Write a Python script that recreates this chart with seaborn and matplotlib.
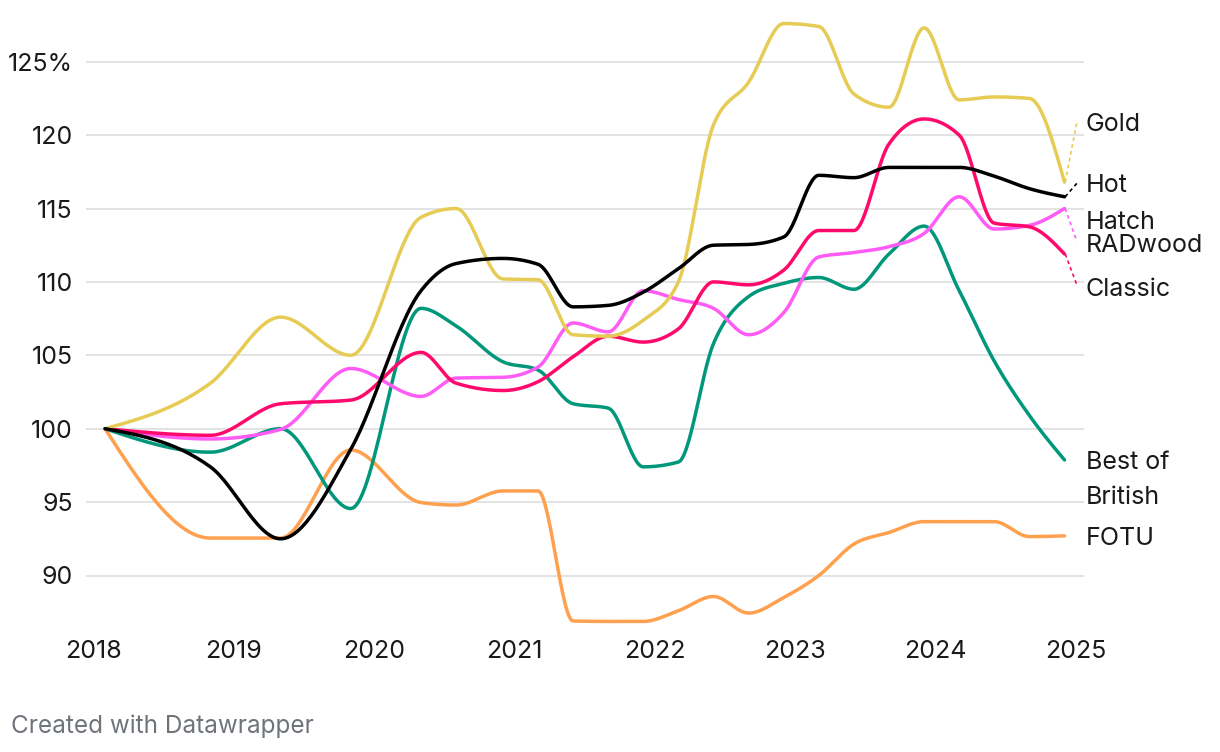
import numpy as np
import pandas as pd
import matplotlib
matplotlib.use("Agg")
import matplotlib.pyplot as plt
import seaborn as sns

# ---------------- data ----------------
dates = ["2018-02", "2018-11", "2019-05", "2019-11", "2020-05", "2020-08", "2020-12",
         "2021-03", "2021-06", "2021-09", "2021-12", "2022-03", "2022-06", "2022-09",
         "2022-12", "2023-03", "2023-06", "2023-09", "2023-12", "2024-03", "2024-06",
         "2024-09", "2024-12"]

gold = [100, 103.1, 107.6, 105.0, 114.4, 115.0, 110.2, 110.15, 106.4, 106.3, 107.4,
        110.0, 120.7, 123.6, 127.6, 127.4, 122.8, 121.9, 127.3, 122.4, 122.6, 122.5, 116.8]
hot = [100, 97.4, 92.5, 98.6, 109.4, 111.25, 111.6, 111.2, 108.3, 108.4, 109.3,
       110.9, 112.5, 112.55, 113.06, 117.26, 117.1, 117.8, 117.8, 117.8, 117.2, 116.35, 115.8]
classic = [100, 99.55, 101.7, 101.95, 105.2, 103.1, 102.6, 103.2, 104.9, 106.3, 105.9,
           106.8, 110.0, 109.8, 110.8, 113.5, 113.5, 119.4, 121.1, 120.0, 114.0, 113.75, 111.9]
radwood = [100, 99.3, 99.95, 104.1, 102.2, 103.45, 103.5, 104.2, 107.2, 106.6, 109.4,
           108.8, 108.2, 106.4, 107.9, 111.7, 112.0, 112.4, 113.3, 115.8, 113.6, 113.85, 115.0]
best_of_british = [100, 98.4, 100.0, 94.56, 108.2, 107.0, 104.56, 104.0, 101.7, 101.4, 97.4,
                   97.73, 105.8, 109.0, 109.9, 110.3, 109.5, 111.9, 113.8, 109.4, 104.6, 100.9, 97.87]
fotu = [100, 92.55, 92.55, 98.55, 94.97, 94.8, 95.76, 95.76, 86.9, 86.87, 86.87,
        87.6, 88.57, 87.44, 88.5, 90.0, 92.14, 92.93, 93.67, 93.67, 93.67, 92.65, 92.7]

series_names = ["FOTU", "Best of British", "RADwood", "Classic", "Gold", "Hot"]
series_values = [fotu, best_of_british, radwood, classic, gold, hot]
colors = {"FOTU": "#ffa04f", "Best of British": "#00977a", "RADwood": "#ff5cf6",
          "Classic": "#ff0a6c", "Gold": "#e6cb55", "Hot": "#000000"}

label_texts = ["Gold", "Hot", "Hatch", "RADwood", "Classic", "Best of", "British", "FOTU"]
label_values = [120.75, 116.55, 114.05, 112.45, 109.45, 97.7, 95.28, 92.55]

y_ticks = [90, 95, 100, 105, 110, 115, 120, 125]
y_ticklabels = ["90", "95", "100", "105", "110", "115", "120", "125%"]
x_ticks = [2018, 2019, 2020, 2021, 2022, 2023, 2024, 2025]


def decimal_year(s):
    y, m = s.split("-")
    return int(y) + (int(m) - 1) / 12.0


def d3_sign(v):
    return -1.0 if v < 0 else 1.0


def monotone_x(x, y, n=30):
    """d3.curveMonotoneX, sampled."""
    x = np.asarray(x, float)
    y = np.asarray(y, float)
    h = np.diff(x)
    s = np.diff(y) / h
    m = len(x)
    t = np.zeros(m)
    for i in range(1, m - 1):
        h0, h1 = h[i - 1], h[i]
        s0, s1 = s[i - 1], s[i]
        p = (s0 * h1 + s1 * h0) / (h0 + h1)
        t[i] = (d3_sign(s0) + d3_sign(s1)) * min(abs(s0), abs(s1), 0.5 * abs(p))
    t[0] = (3 * s[0] - t[1]) / 2
    t[-1] = (3 * s[-1] - t[-2]) / 2
    xs, ys = [], []
    u = np.linspace(0, 1, n, endpoint=False)
    for i in range(m - 1):
        x0, x1, y0, y1 = x[i], x[i + 1], y[i], y[i + 1]
        dx = h[i] / 3
        P = np.array([[x0, y0], [x0 + dx, y0 + dx * t[i]],
                      [x1 - dx, y1 - dx * t[i + 1]], [x1, y1]])
        b = ((1 - u) ** 3)[:, None] * P[0] + (3 * (1 - u) ** 2 * u)[:, None] * P[1] \
            + (3 * (1 - u) * u ** 2)[:, None] * P[2] + (u ** 3)[:, None] * P[3]
        xs.extend(b[:, 0])
        ys.extend(b[:, 1])
    xs.append(x[-1])
    ys.append(y[-1])
    return np.array(xs), np.array(ys)


xyears = [decimal_year(d) for d in dates]
frames = []
for name, vals in zip(series_names, series_values):
    sx, sy = monotone_x(xyears, vals)
    frames.append(pd.DataFrame({"year": sx, "value": sy, "series": name}))
df = pd.concat(frames, ignore_index=True)

# ---------------- figure ----------------
sns.set_theme(style="white")
plt.rcParams["font.family"] = ["Inter", "DejaVu Sans"]

W, H = 1220, 752
fig = plt.figure(figsize=(W / 100, H / 100), dpi=100)
ax_left, ax_right, ax_top, ax_bottom = 86, 1084, 15, 630
ax = fig.add_axes([ax_left / W, 1 - ax_bottom / H, (ax_right - ax_left) / W, (ax_bottom - ax_top) / H])

px_per_year = 140.4
x2018_px = 93.4
px_per_unit = 14.68
y100_px = 428.7
ax.set_xlim(2018 - (x2018_px - ax_left) / px_per_year, 2018 + (ax_right - x2018_px) / px_per_year)
ax.set_ylim(100 - (ax_bottom - y100_px) / px_per_unit, 100 - (ax_top - y100_px) / px_per_unit)

for yv in y_ticks:
    ax.axhline(yv, color="#e3e3e3", lw=1.4, zorder=0)

sns.lineplot(data=df, x="year", y="value", hue="series", hue_order=series_names,
             palette=colors, estimator=None, sort=False, legend=False,
             lw=2.5, ax=ax, zorder=3)
for line in ax.lines:
    line.set_solid_capstyle("round")
    line.set_solid_joinstyle("round")

# connectors to shifted labels
end_x = xyears[-1]
conn = [("Gold", gold[-1], 120.9), ("Hot", hot[-1], 116.72),
        ("RADwood", radwood[-1], 112.74), ("Classic", classic[-1], 109.79)]
for name, y0, y1 in conn:
    ax.plot([end_x + 0.005, 2025.005], [y0, y1], color=colors[name], lw=1.2,
            linestyle=(0, (2.2, 2.0)), zorder=2)

FS = 18.0
for txt, yv in zip(label_texts, label_values):
    ax.text(2025.068, yv, txt, ha="left", va="center", fontsize=FS,
            color="#1a1a1a", clip_on=False)

ax.set_yticks(y_ticks)
ax.set_yticklabels(y_ticklabels)
ax.set_xticks(x_ticks)
ax.set_xticklabels([str(v) for v in x_ticks])
ax.tick_params(axis="y", length=0, pad=9.5, labelsize=FS, labelcolor="#1a1a1a")
ax.tick_params(axis="x", length=0, pad=7.0, labelsize=FS, labelcolor="#1a1a1a")
ax.set_xlabel("")
ax.set_ylabel("")
for sp in ax.spines.values():
    sp.set_visible(False)
ax.grid(False)

fig.text(11 / W, 1 - 726 / H, "Created with Datawrapper", ha="left", va="center",
         fontsize=17.5, color="#6f747b")

fig.savefig("out.png", dpi=100)
